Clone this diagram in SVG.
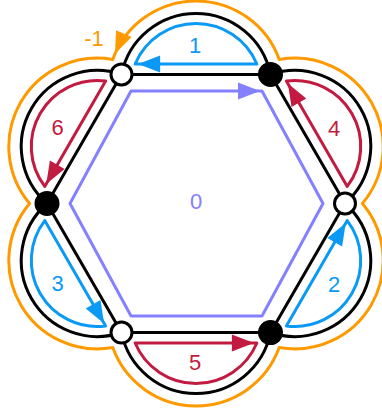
<svg xmlns="http://www.w3.org/2000/svg" width="382" height="419" viewBox="0 0 382 419">
<style>
.edge{fill:none;stroke:#000;stroke-width:3}
.fb{fill:none;stroke:#0a9af5;stroke-width:3;stroke-linejoin:round}
.fr{fill:none;stroke:#c21a40;stroke-width:3;stroke-linejoin:round}
.fo{fill:none;stroke:#ff9900;stroke-width:3;stroke-linejoin:round}
.fp{fill:none;stroke:#8480ff;stroke-width:3;stroke-linejoin:round}
.ab{fill:#0a9af5}.ar{fill:#c21a40}.ao{fill:#ff9900}.ap{fill:#8480ff}
.lbl{font-family:"Liberation Sans",Arial,Helvetica,sans-serif;font-size:22px;text-anchor:middle}
.wv{fill:#fff;stroke:#000;stroke-width:3}
.bv{fill:#000;stroke:#000;stroke-width:3}
</style>
<defs>
<path id="ah" d="M0,0 L-22,-8.5 L-22,8.5 Z"/>
</defs>

<g id="face-outer">
<path class="fo" d="M279.2,59.4 A88.5,88.5 0 0 0 112.8,59.4 A88.5,88.5 0 0 0 29.6,203.5 A88.5,88.5 0 0 0 112.8,347.6 A88.5,88.5 0 0 0 279.2,347.6 A88.5,88.5 0 0 0 362.4,203.5 A88.5,88.5 0 0 0 279.2,59.4 Z"/>
<use href="#ah" class="ao" transform="translate(115,53.8) rotate(113.8)"/>
<text class="lbl" x="94" y="45.5" fill="#ff9900">-1</text>
</g>

<g id="connectors">
<path class="edge" d="M121.5,74.46 L270.5,74.46 L345,203.5 L270.5,332.54 L121.5,332.54 L47,203.5 Z"/>
<path class="edge" d="M121.5,74.46 A76,76 0 0 1 270.5,74.46"/>
<path class="edge" d="M270.5,74.46 A76,76 0 0 1 345,203.5"/>
<path class="edge" d="M345,203.5 A76,76 0 0 1 270.5,332.54"/>
<path class="edge" d="M270.5,332.54 A76,76 0 0 1 121.5,332.54"/>
<path class="edge" d="M121.5,332.54 A76,76 0 0 1 47,203.5"/>
<path class="edge" d="M47,203.5 A76,76 0 0 1 121.5,74.46"/>
</g>

<g id="face-0">
<path class="fp" d="M131,91 L262,91 L323,203.5 L262,316 L131,316 L70,203.5 Z"/>
<use href="#ah" class="ap" transform="translate(260,91)"/>
<text class="lbl" x="196" y="209" fill="#8480ff">0</text>
</g>

<g id="face-1">
<path class="fb" d="M256.87,64 L135.13,64 A66,66 0 0 1 256.87,64 Z"/>
<use href="#ah" class="ab" transform="translate(138.1,64) rotate(180)"/>
<text class="lbl" x="195" y="53" fill="#0a9af5">1</text>
</g>

<g id="face-4">
<path class="fr" d="M347.25,186.46 L286.38,81.04 A66,66 0 0 1 347.25,186.46 Z"/>
<use href="#ah" class="ar" transform="translate(287.9,83.6) rotate(-120)"/>
<text class="lbl" x="334" y="136" fill="#c21a40">4</text>
</g>

<g id="face-2">
<path class="fb" d="M286.38,325.96 L347.25,220.54 A66,66 0 0 1 286.38,325.96 Z"/>
<use href="#ah" class="ab" transform="translate(345.75,223.1) rotate(-60)"/>
<text class="lbl" x="334" y="292" fill="#0a9af5">2</text>
</g>

<g id="face-5">
<path class="fr" d="M135.13,343 L256.87,343 A66,66 0 0 1 135.13,343 Z"/>
<use href="#ah" class="ar" transform="translate(253.9,343)"/>
<text class="lbl" x="195" y="369.5" fill="#c21a40">5</text>
</g>

<g id="face-3">
<path class="fb" d="M44.75,220.54 L105.62,325.96 A66,66 0 0 1 44.75,220.54 Z"/>
<use href="#ah" class="ab" transform="translate(104.1,323.4) rotate(60)"/>
<text class="lbl" x="57.5" y="290.5" fill="#0a9af5">3</text>
</g>

<g id="face-6">
<path class="fr" d="M105.62,81.04 L44.75,186.46 A66,66 0 0 1 105.62,81.04 Z"/>
<use href="#ah" class="ar" transform="translate(46.25,183.9) rotate(120)"/>
<text class="lbl" x="57.5" y="134.5" fill="#c21a40">6</text>
</g>

<g id="v-tl"><circle class="wv" cx="121.5" cy="74.46" r="10.5"/></g>
<g id="v-tr"><circle class="bv" cx="270.5" cy="74.46" r="11"/></g>
<g id="v-r"><circle class="wv" cx="345" cy="203.5" r="10.5"/></g>
<g id="v-br"><circle class="bv" cx="270.5" cy="332.54" r="11"/></g>
<g id="v-bl"><circle class="wv" cx="121.5" cy="332.54" r="10.5"/></g>
<g id="v-l"><circle class="bv" cx="47" cy="203.5" r="11"/></g>
</svg>
